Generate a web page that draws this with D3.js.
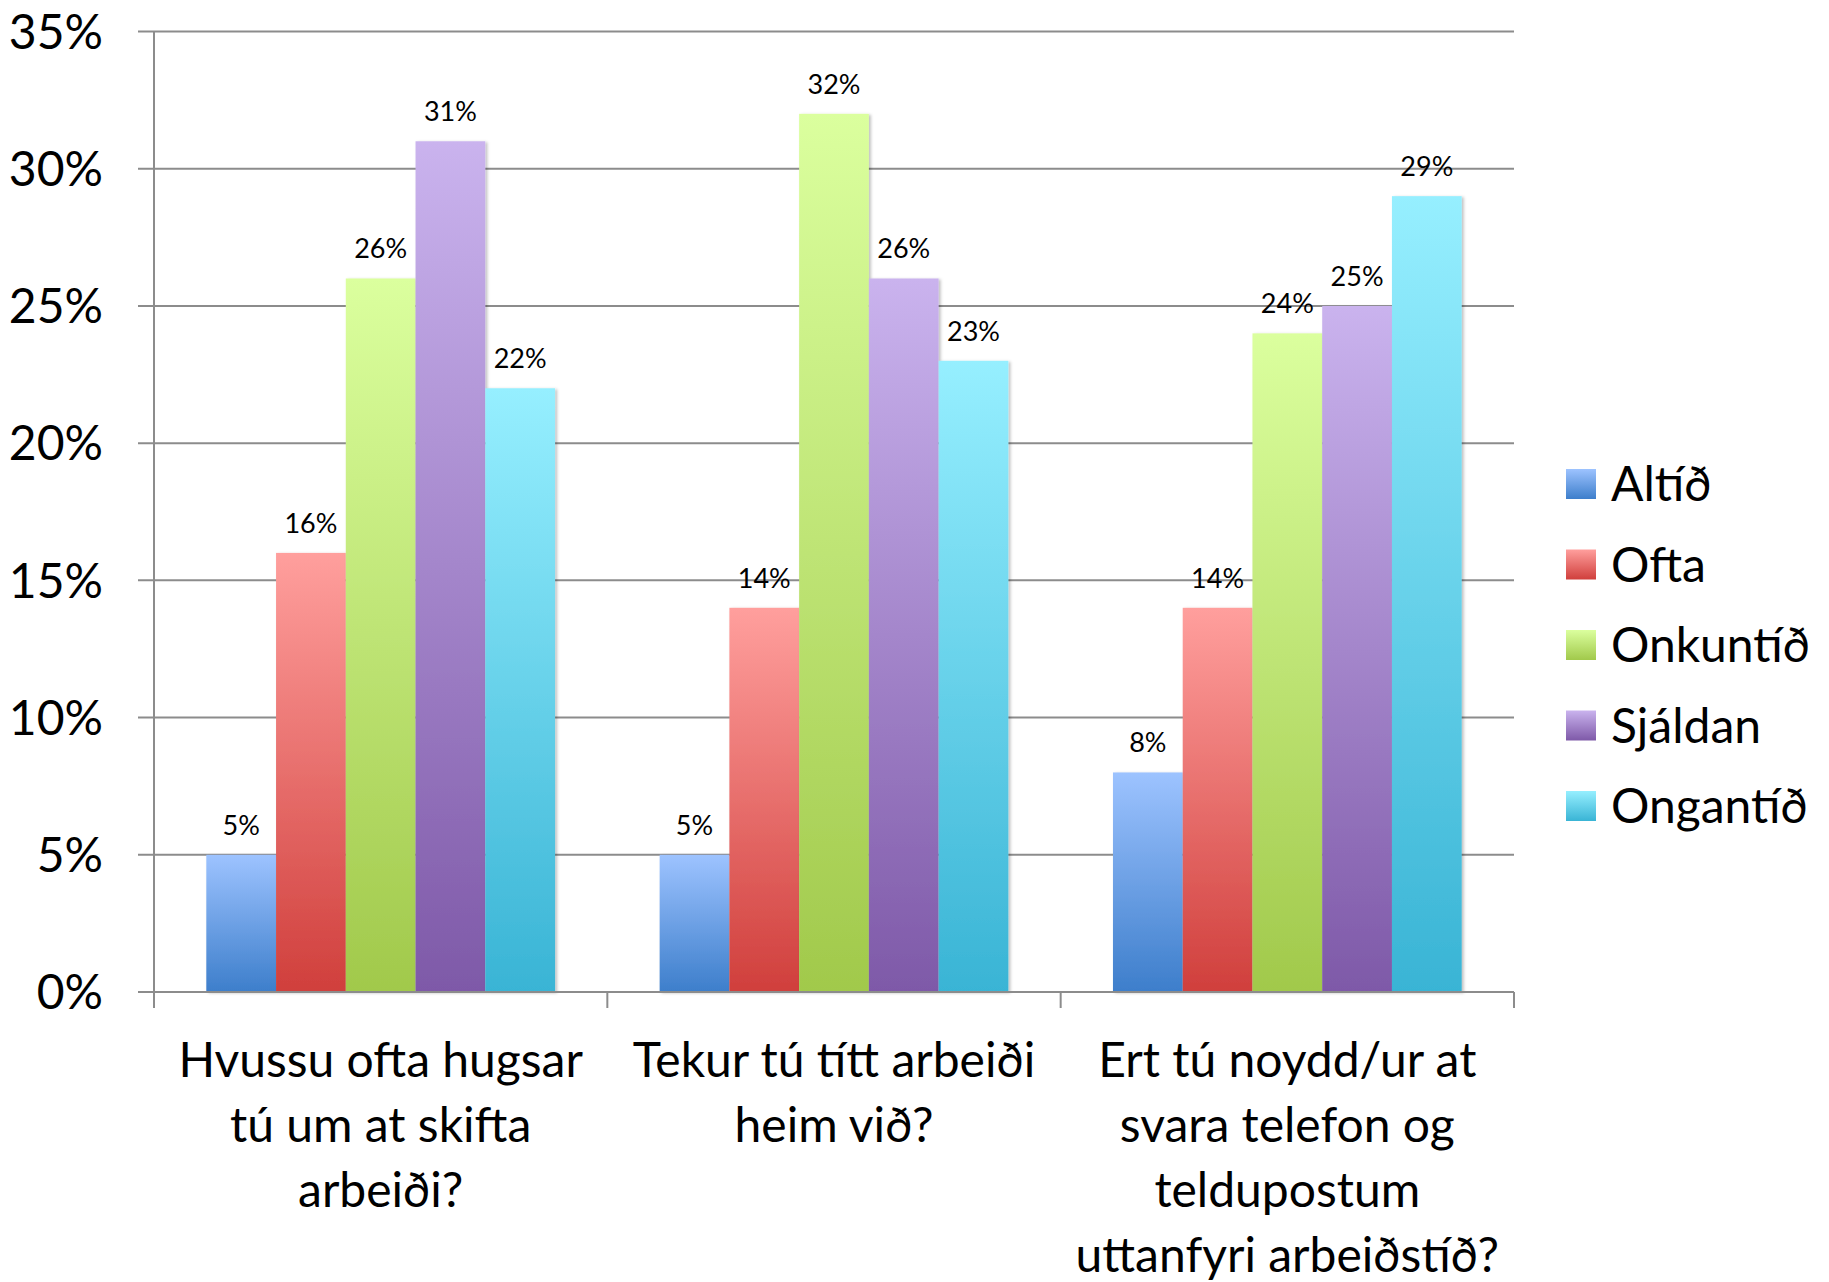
<!DOCTYPE html>
<html>
<head>
<meta charset="utf-8">
<script src="https://cdn.jsdelivr.net/npm/d3@7"></script>
<style>
  body { margin: 0; background: #fff; }
  text { font-family: Lato, "Open Sans", sans-serif; fill: #000; }
</style>
</head>
<body>
<script>
// data
var questions = [
    ["Hvussu ofta hugsar", "tú um at skifta", "arbeiði?"],
    ["Tekur tú títt arbeiði", "heim við?"],
    ["Ert tú noydd/ur at", "svara telefon og", "teldupostum", "uttanfyri arbeiðstíð?"]
];
var series = ["Altíð", "Ofta", "Onkuntíð", "Sjáldan", "Ongantíð"];
var altid = [5, 5, 8];
var ofta = [16, 14, 14];
var onkuntid = [26, 32, 24];
var sjaldan = [31, 26, 25];
var ongantid = [22, 23, 29];
var yTicks = [0, 5, 10, 15, 20, 25, 30, 35];

var values = [altid, ofta, onkuntid, sjaldan, ongantid];
// light top / dark bottom per series
var topColors = ["#9dc3ff", "#ff9f9d", "#dbff9e", "#cab3ee", "#96efff"];
var bottomColors = ["#3d7ecb", "#d03f3c", "#a1c94b", "#7e59a8", "#39b4d5"];

var width = 1829, height = 1282;
var plotLeft = 154, plotRight = 1514, plotTop = 31.5, plotBottom = 992;

const svg = d3.select("body").append("svg")
    .attr("width", width)
    .attr("height", height);

var defs = svg.append("defs");
series.forEach(function (s, i) {
    var g = defs.append("linearGradient")
        .attr("id", "grad" + i)
        .attr("x1", 0).attr("y1", 0).attr("x2", 0).attr("y2", 1);
    g.append("stop").attr("offset", "0%").attr("stop-color", topColors[i]);
    g.append("stop").attr("offset", "100%").attr("stop-color", bottomColors[i]);
});
defs.append("filter").attr("id", "shadow")
    .attr("x", "-10%").attr("y", "-10%").attr("width", "130%").attr("height", "120%")
    .append("feDropShadow")
    .attr("dx", 2).attr("dy", 1).attr("stdDeviation", 1.5)
    .attr("flood-color", "#000").attr("flood-opacity", 0.25);

var y = d3.scaleLinear().domain([0, 35]).range([plotBottom, plotTop]);
var x0 = d3.scaleBand().domain(d3.range(questions.length)).range([plotLeft, plotRight]);
var barW = x0.bandwidth() / 6.5; // gap width 150%
var x1 = d3.scaleBand().domain(d3.range(series.length))
    .range([barW * 0.75, x0.bandwidth() - barW * 0.75]);

//gridlines + left ticks
svg.append("g").selectAll("line")
    .data(yTicks)
    .enter()
    .append("line")
    .attr("x1", plotLeft - 16)
    .attr("x2", plotRight)
    .attr("y1", function (d) { return y(d) })
    .attr("y2", function (d) { return y(d) })
    .attr("stroke", "#8c8c8c")
    .attr("stroke-width", 2);

svg.append("g").selectAll("text")
    .data(yTicks)
    .enter()
    .append("text")
    .attr("x", 103)
    .attr("y", function (d) { return y(d) })
    .attr("dy", "0.36em")
    .attr("text-anchor", "end")
    .style("font-size", "48px")
    .text(function (d) { return d + "%" });

//bars
var groups = svg.append("g").selectAll("g")
    .data(questions)
    .enter()
    .append("g")
    .attr("transform", function (d, i) { return "translate(" + x0(i) + ",0)" });

groups.selectAll("rect")
    .data(function (d, qi) { return values.map(function (v, si) { return { s: si, v: v[qi] } }) })
    .enter()
    .append("rect")
    .attr("x", function (d) { return x1(d.s) })
    .attr("width", x1.bandwidth())
    .attr("y", function (d) { return y(d.v) })
    .attr("height", function (d) { return plotBottom - y(d.v) })
    .attr("fill", function (d) { return "url(#grad" + d.s + ")" })
    .attr("filter", "url(#shadow)");

groups.selectAll("text.val")
    .data(function (d, qi) { return values.map(function (v, si) { return { s: si, v: v[qi] } }) })
    .enter()
    .append("text")
    .attr("class", "val")
    .attr("x", function (d) { return x1(d.s) + x1.bandwidth() / 2 })
    .attr("y", function (d) { return y(d.v) - 20 })
    .attr("text-anchor", "middle")
    .style("font-size", "27px")
    .text(function (d) { return d.v + "%" });

//axis lines
svg.append("line")
    .attr("x1", plotLeft).attr("x2", plotLeft)
    .attr("y1", plotTop).attr("y2", plotBottom + 16)
    .attr("stroke", "#8c8c8c").attr("stroke-width", 2);
svg.append("line")
    .attr("x1", plotLeft - 16).attr("x2", plotRight)
    .attr("y1", plotBottom).attr("y2", plotBottom)
    .attr("stroke", "#8c8c8c").attr("stroke-width", 2);
svg.append("g").selectAll("line")
    .data(d3.range(questions.length))
    .enter()
    .append("line")
    .attr("x1", function (d) { return x0(d) + x0.bandwidth() })
    .attr("x2", function (d) { return x0(d) + x0.bandwidth() })
    .attr("y1", plotBottom).attr("y2", plotBottom + 16)
    .attr("stroke", "#8c8c8c").attr("stroke-width", 2);

//category labels
var labels = svg.append("g").selectAll("text")
    .data(questions)
    .enter()
    .append("text")
    .attr("text-anchor", "middle")
    .style("font-size", "48px");
labels.selectAll("tspan")
    .data(function (d, i) { return d.map(function (line, j) { return { line: line, j: j, i: i } }) })
    .enter()
    .append("tspan")
    .attr("x", function (d) { return x0(d.i) + x0.bandwidth() / 2 })
    .attr("y", function (d) { return 1077 + d.j * 65 })
    .text(function (d) { return d.line });

//legend
var legend = svg.append("g").selectAll("g")
    .data(series)
    .enter()
    .append("g")
    .attr("transform", function (d, i) { return "translate(1566," + (469 + i * 80.5) + ")" });
legend.append("rect")
    .attr("width", 30).attr("height", 30)
    .attr("fill", function (d, i) { return "url(#grad" + i + ")" });
legend.append("text")
    .attr("x", 45)
    .attr("y", 15)
    .attr("dy", "0.36em")
    .style("font-size", "48px")
    .text(function (d) { return d });
</script>
</body>
</html>
